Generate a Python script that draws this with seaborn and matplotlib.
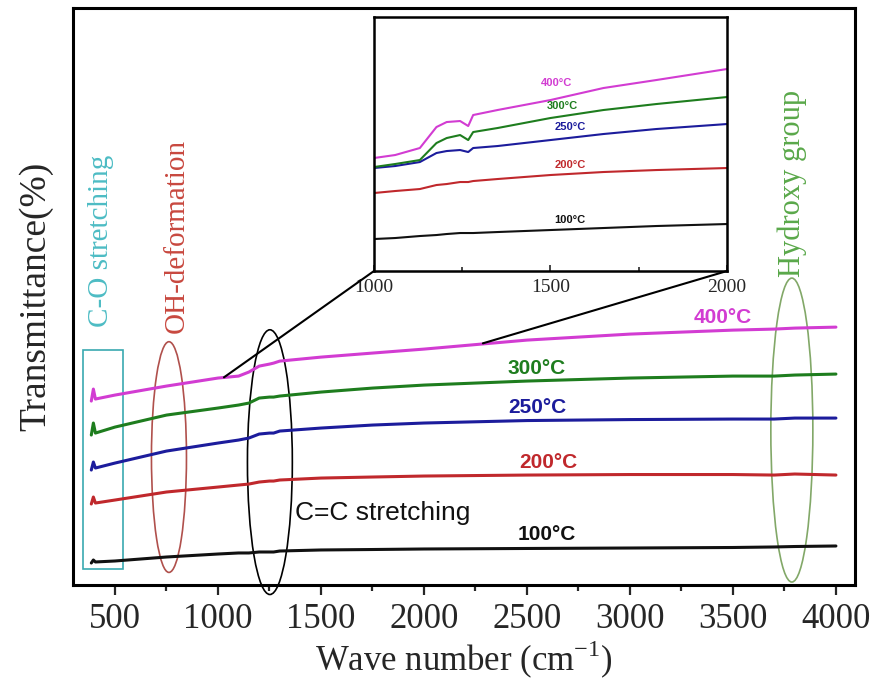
import seaborn as sns
import matplotlib.pyplot as plt
import pandas as pd
from matplotlib.patches import Ellipse, Rectangle, ConnectionPatch

# FTIR spectra (arbitrary transmittance units)
wave = [385, 395, 405, 500, 750, 1000, 1100, 1150, 1200, 1250, 1270, 1300, 1500,
        1750, 2000, 2500, 3000, 3500, 3700, 3800, 4000]
t100 = [3.81, 4.33, 3.99, 4.16, 4.85, 5.37, 5.55, 5.55, 5.72, 5.72, 5.72, 5.89, 6.07,
        6.15, 6.24, 6.33, 6.41, 6.50, 6.59, 6.67, 6.76]
t200 = [14.04, 15.25, 14.21, 14.73, 16.12, 16.98, 17.33, 17.50, 17.85, 18.02, 18.02, 18.20, 18.54,
        18.72, 18.89, 19.06, 19.15, 19.15, 19.06, 19.24, 19.06]
t250 = [19.93, 21.32, 20.28, 21.14, 23.22, 24.61, 25.13, 25.48, 26.17, 26.34, 26.34, 26.69, 27.21,
        27.73, 28.08, 28.51, 28.68, 28.77, 28.77, 28.94, 28.94]
t300 = [26.00, 28.08, 26.34, 27.38, 29.46, 30.68, 31.20, 31.54, 32.41, 32.58, 32.58, 32.76, 33.45,
        34.14, 34.66, 35.36, 35.88, 36.22, 36.22, 36.40, 36.57]
t400 = [31.89, 33.97, 32.24, 32.93, 34.49, 35.88, 36.22, 36.92, 37.95, 38.30, 38.47, 38.82, 39.51,
        40.21, 40.90, 42.46, 43.50, 44.19, 44.37, 44.54, 44.71]

# zoomed region 1000-2000 cm-1 (inset)
wave_in = [1000, 1060, 1130, 1177, 1206, 1244, 1267, 1281, 1350, 1500, 1650, 1800, 2000]
in100 = [12.60, 12.99, 13.78, 14.17, 14.57, 14.96, 14.96, 14.96, 15.35, 16.14, 16.93, 17.72, 18.50]
in200 = [30.71, 31.50, 32.28, 33.86, 34.25, 35.04, 35.04, 35.43, 36.22, 37.80, 38.98, 39.76, 40.55]
in250 = [40.55, 41.34, 42.91, 46.46, 47.24, 47.64, 46.85, 48.43, 49.21, 51.57, 53.94, 55.91, 57.87]
in300 = [40.94, 42.13, 43.70, 50.39, 52.36, 53.54, 51.57, 54.72, 56.30, 60.24, 63.39, 65.75, 68.50]
in400 = [44.49, 45.67, 48.43, 56.69, 58.66, 59.06, 57.09, 61.42, 63.39, 67.32, 72.05, 75.20, 79.53]

temps = ['100°C', '200°C', '250°C', '300°C', '400°C']
colors = ['#111111', '#c0282c', '#1c1c9c', '#1e7d1e', '#d23cd2']

df = pd.DataFrame({'wave': wave * 5, 'T': t100 + t200 + t250 + t300 + t400,
                   'temp': [t for t in temps for _ in wave]})
df_in = pd.DataFrame({'wave': wave_in * 5, 'T': in100 + in200 + in250 + in300 + in400,
                      'temp': [t for t in temps for _ in wave_in]})

sns.set_style('white')
plt.rcParams['font.family'] = ['Liberation Serif', 'DejaVu Serif']

fig = plt.figure(figsize=(8.75, 6.87), dpi=100)
ax = fig.add_axes([0.0834, 0.1485, 0.8936, 0.8395])
sns.lineplot(data=df, x='wave', y='T', hue='temp', palette=colors, linewidth=2.2,
             legend=False, ax=ax, sort=False)
ax.set_xlim(296, 4092)
ax.set_ylim(0, 100)
ax.set_yticks([])
ax.set_xticks(range(500, 4001, 500))
ax.set_xticks(range(750, 4000, 500), minor=True)
ax.tick_params(axis='x', which='major', direction='out', length=7, width=1.6,
               labelsize=25, pad=6, bottom=True)
ax.tick_params(axis='x', which='minor', direction='out', length=4, width=1.6, bottom=True)
for s in ax.spines.values():
    s.set_linewidth(2.2)
    s.set_color('black')
ax.set_xlabel('Wave number (cm$^{\\mathregular{-1}}$)', fontsize=25, labelpad=2)
ax.set_ylabel('Transmittance(%)', fontsize=27, labelpad=14)

# temperature labels
lab_pos = [(2597, 8.67), (2602, 21.3), (2553, 30.7), (2549, 37.6), (3451, 46.45)]
for t, c, (x, y) in zip(temps, colors, lab_pos):
    ax.text(x, y, t, color=c, fontsize=15, fontweight='bold', family='Liberation Sans',
            ha='center', va='center')

# band annotations
ax.add_patch(Rectangle((345, 2.77), 194, 37.96, fill=False, edgecolor='#3aa9b0', lw=1.2))
ax.text(430, 44.7, 'C-O stretching', rotation=90, color='#4dbcc4', fontsize=21,
        ha='center', va='bottom')
ax.add_patch(Ellipse((762, 22.18), 170, 40.0, fill=False, edgecolor='#b0504c', lw=1.2))
ax.text(800, 43.7, 'OH-deformation', rotation=90, color='#c8483f', fontsize=21,
        ha='center', va='bottom')
ax.add_patch(Ellipse((1252, 21.3), 218, 45.9, fill=False, edgecolor='black', lw=1.2,
                     clip_on=False))
ax.text(1374, 12.48, 'C=C stretching', color='#111111', fontsize=19,
        family='Liberation Sans', ha='left', va='center')
ax.add_patch(Ellipse((3786, 26.86), 204, 52.7, fill=False, edgecolor='#82a868', lw=1.2))
ax.text(3786, 53.4, 'Hydroxy group', rotation=90, color='#5aa84a', fontsize=22,
        ha='center', va='bottom')

# inset
axin = fig.add_axes([0.4274, 0.6055, 0.4034, 0.3697])
sns.lineplot(data=df_in, x='wave', y='T', hue='temp', palette=colors, linewidth=1.5,
             legend=False, ax=axin, sort=False)
axin.set_xlim(1000, 2000)
axin.set_ylim(0, 100)
axin.set_yticks([])
axin.set_xticks([1000, 1500, 2000])
axin.set_xticks([1250, 1750], minor=True)
axin.tick_params(axis='x', which='major', direction='in', length=4, width=1.2,
                 labelsize=14, pad=6, bottom=True)
axin.tick_params(axis='x', which='minor', direction='in', length=3, width=1.2, bottom=True)
axin.set_xlabel('')
axin.set_ylabel('')
for s in axin.spines.values():
    s.set_linewidth(1.8)
    s.set_color('black')
in_lab = [(1555, 20.1), (1555, 41.7), (1555, 56.7), (1535, 65.0), (1518, 74.0)]
for t, c, (x, y) in zip(temps, colors, in_lab):
    axin.text(x, y, t, color=c, fontsize=8, fontweight='bold', family='Liberation Sans',
              ha='center', va='center')

# lines linking the inset to the main plot
for xa, (xb, yb) in [(0, (1029, 36.0)), (1, (2286, 41.9))]:
    con = ConnectionPatch(xyA=(xa, 0), coordsA=axin.transAxes, xyB=(xb, yb),
                          coordsB=ax.transData, color='black', lw=1.5)
    fig.add_artist(con)

plt.savefig('out.png', dpi=100)
